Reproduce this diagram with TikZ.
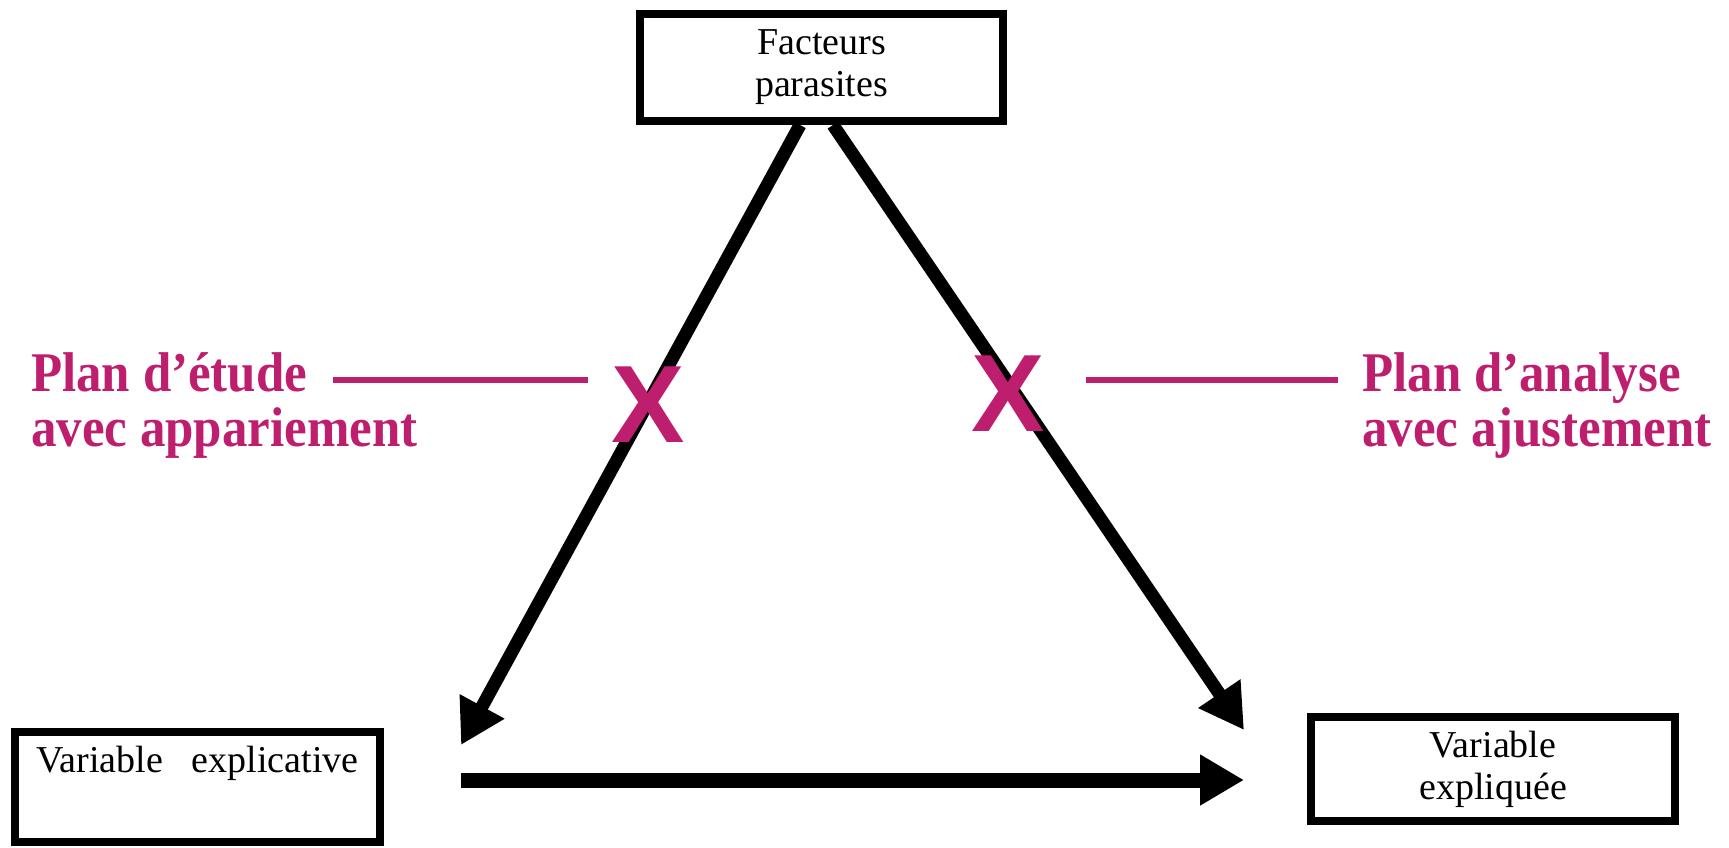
\documentclass[tikz,border=0pt]{standalone}
\usepackage{fontspec}
\setmainfont{Liberation Serif}
\newfontfamily\lblfont[FakeStretch=0.91]{Liberation Serif}
\newfontfamily\xfont{Liberation Sans}
\usetikzlibrary{arrows.meta,calc,backgrounds}
\definecolor{mag}{HTML}{BE1E6E}
\begin{document}
\begin{tikzpicture}[x=1pt,y=-1pt,
  box/.style={draw=black,line width=8pt,fill=white,inner sep=0pt,align=center,font=\fontsize{38}{42}\selectfont},
  arr/.style={line width=13pt,-{Triangle[length=44pt,width=48pt]}},
  lbl/.style={text=mag,align=left,inner sep=0pt,anchor=west,font=\lblfont\bfseries\fontsize{56}{55}\selectfont},
  cross/.style={text=mag,inner sep=0pt,font=\xfont\bfseries\fontsize{110}{110}\selectfont},
  link/.style={draw=mag,line width=6pt}]
\useasboundingbox (0,0) rectangle (1729,848);

\node[box,minimum width=363pt,minimum height=107pt] (F) at (821.5,67.5) {Facteurs\\parasites};
\node[box,minimum width=365pt,text height=32pt,text depth=62pt,inner sep=8pt] (E) at (197.5,787) {Variable\hspace{0.75em}explicative};
\node[box,minimum width=364pt,minimum height=104pt] (Y) at (1493,769) {Variable\\expliquée};

\coordinate (a1) at ($(F.south)+(-21.5,0)$);
\coordinate (a2) at ($(F.south)+(11.5,0)$);
\coordinate (tL) at (461,745);
\coordinate (tR) at (1244,730);
\coordinate (h1) at (461,780);
\coordinate (h2) at (1244,780);

\begin{scope}[on background layer]
  \draw[arr] (a1) -- (tL);
  \draw[arr] (a2) -- (tR);
  \draw[arr,line width=15pt] (h1) -- (h2);
\end{scope}

\node[lbl] (L) at (31,406) {Plan d’étude\\avec appariement};
\node[lbl] (R) at (1362,406) {Plan d’analyse\\avec ajustement};
\node[cross] (XL) at (648,405) {X};
\node[cross] (XR) at (1008,394) {X};

\coordinate (l1) at (333,380);
\coordinate (l2) at (588,380);
\coordinate (r1) at (1086,380);
\coordinate (r2) at (1338,380);
\draw[link] (l1) -- (l2);
\draw[link] (r1) -- (r2);
\end{tikzpicture}
\end{document}
